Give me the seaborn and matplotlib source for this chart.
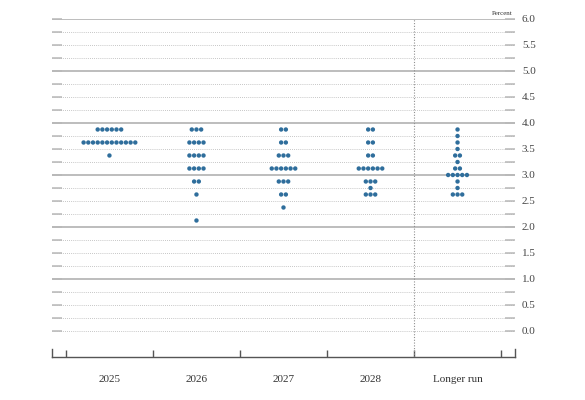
import numpy as np
import pandas as pd
import seaborn as sns
import matplotlib.pyplot as plt
from matplotlib.ticker import FixedLocator, NullFormatter

# Projections of the federal funds rate (midpoint of target range), one dot per participant
categories = ['2025', '2026', '2027', '2028', 'Longer run']

levels_2025 = [3.875, 3.625, 3.375]
counts_2025 = [6, 12, 1]
levels_2026 = [3.875, 3.625, 3.375, 3.125, 2.875, 2.625, 2.125]
counts_2026 = [3, 4, 4, 4, 2, 1, 1]
levels_2027 = [3.875, 3.625, 3.375, 3.125, 2.875, 2.625, 2.375]
counts_2027 = [2, 2, 3, 6, 3, 2, 1]
levels_2028 = [3.875, 3.625, 3.375, 3.125, 2.875, 2.75, 2.625]
counts_2028 = [2, 2, 2, 6, 3, 1, 3]
levels_lr = [3.875, 3.75, 3.625, 3.5, 3.375, 3.25, 3.125, 3.0, 2.875, 2.75, 2.625]
counts_lr = [1, 1, 1, 1, 2, 1, 2, 5, 1, 1, 3]

columns = [(levels_2025, counts_2025), (levels_2026, counts_2026),
           (levels_2027, counts_2027), (levels_2028, counts_2028),
           (levels_lr, counts_lr)]

# spread dots of the same value side by side
dot_gap = 0.054
rows = []
for i, (levels, counts) in enumerate(columns):
    for lvl, n in zip(levels, counts):
        for k in range(n):
            rows.append({'x': i + (k - (n - 1) / 2) * dot_gap, 'rate': lvl})
df = pd.DataFrame(rows)

sns.set_theme(style='white')
plt.rcParams['font.family'] = ['Liberation Serif', 'DejaVu Serif']

fig = plt.figure(figsize=(5.85, 4.0), dpi=100)
ax = fig.add_axes([0.0889, 0.1075, 0.7914, 0.845])

# grid: dotted every quarter point, solid at whole numbers
for yv in np.arange(0, 6.01, 0.25):
    if yv >= 1 and abs(yv - round(yv)) < 1e-9:
        ax.axhline(yv, color='#b8b8b8', lw=1.3, zorder=1)
    else:
        ax.axhline(yv, color='#b4b4b4', lw=0.6, ls=(0, (1, 1.5)), zorder=1)
ax.axvline(3.5, color='#909090', lw=0.8, ls=(0, (1, 1.5)), zorder=1)

sns.scatterplot(data=df, x='x', y='rate', color='#2f6e9c', s=10,
                edgecolor='none', legend=False, ax=ax, zorder=3)

ax.set_xlim(-0.66, 4.66)
ax.set_ylim(-0.5, 6.0)
ax.set_xlabel('')
ax.set_ylabel('')

# y axis on the right
ax.yaxis.set_major_locator(FixedLocator(np.arange(0, 6.01, 0.5)))
ax.yaxis.set_minor_locator(FixedLocator(np.arange(0.25, 6.0, 0.5)))
ax.set_yticklabels([f'{v:.1f}' for v in np.arange(0, 6.01, 0.5)])
ax.tick_params(axis='y', which='both', left=True, right=True, direction='in',
               length=7, width=1.1, color='#b8b8b8', labelleft=False,
               labelright=True, labelsize=8, labelcolor='#444444', pad=5)

# x axis: ticks between columns, labels at centres
ax.xaxis.set_major_locator(FixedLocator(np.arange(-0.5, 4.51, 1)))
ax.xaxis.set_major_formatter(NullFormatter())
ax.xaxis.set_minor_locator(FixedLocator(range(len(categories))))
ax.set_xticklabels(categories, minor=True)
ax.tick_params(axis='x', which='major', bottom=True, direction='in',
               length=5, width=1, color='#555555')
ax.tick_params(axis='x', which='minor', bottom=True, length=0, pad=13,
               labelsize=8, labelcolor='#333333')

ax.spines['top'].set_visible(False)
for side in ['left', 'right', 'bottom']:
    ax.spines[side].set_color('#555555')
    ax.spines[side].set_linewidth(1)
ax.spines['left'].set_bounds(-0.5, -0.35)
ax.spines['right'].set_bounds(-0.5, -0.35)

ax.text(4.63, 6.06, 'Percent', ha='right', va='bottom', fontsize=5,
        color='#333333')

fig.savefig('out.png', dpi=100)
